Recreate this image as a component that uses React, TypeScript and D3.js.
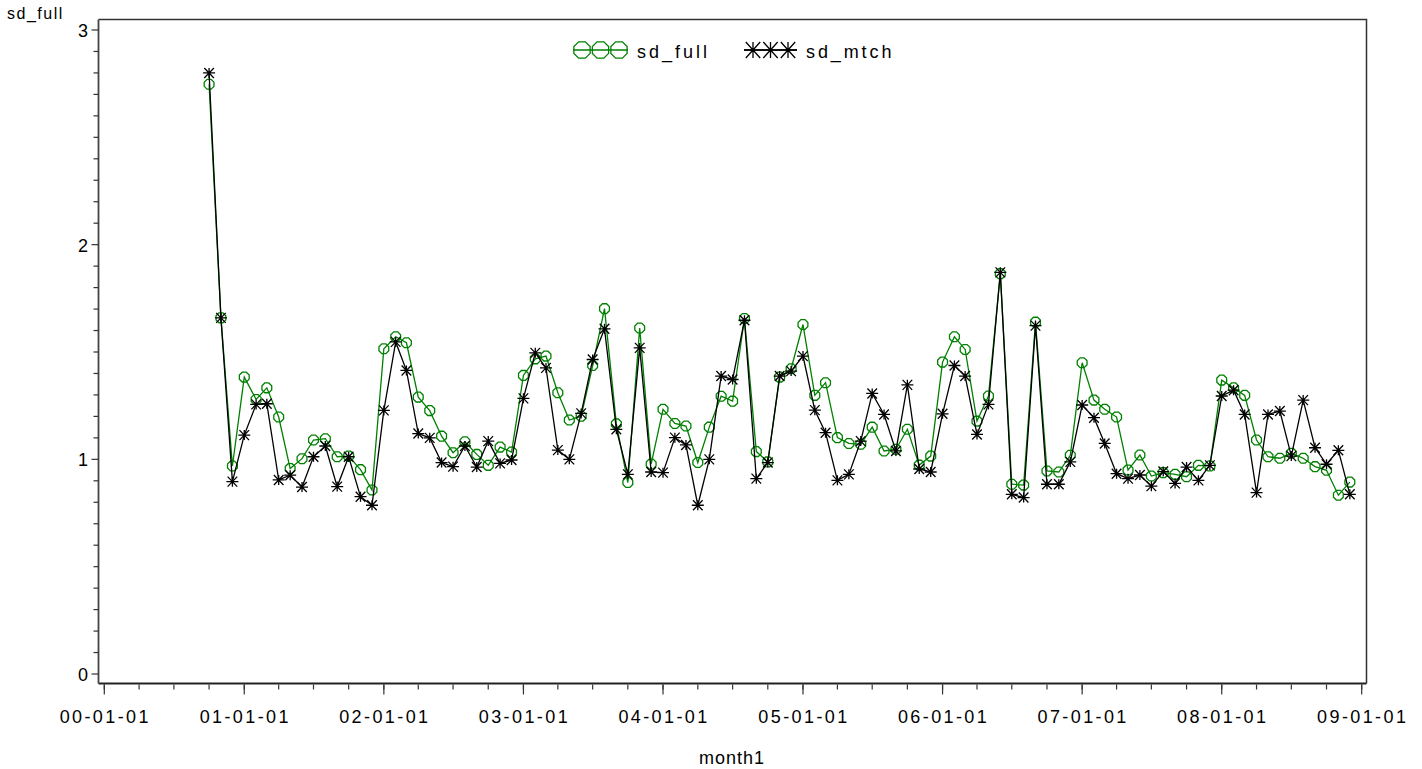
import React from 'react';
import * as d3 from 'd3';

const W = 1422;
const H = 769;

// Monthly values, Oct 2000 .. Dec 2008
const sdFull = [
  2.747, 1.659, 0.969,
  1.383, 1.279, 1.333, 1.197, 0.957, 1.003, 1.090, 1.096, 1.012, 1.015, 0.952, 0.857,
  1.515, 1.571, 1.543, 1.290, 1.227, 1.108, 1.031, 1.082, 1.023, 0.972, 1.057, 1.034,
  1.391, 1.468, 1.481, 1.310, 1.183, 1.201, 1.437, 1.702, 1.165, 0.892, 1.612, 0.978,
  1.233, 1.167, 1.155, 0.985, 1.150, 1.294, 1.271, 1.656, 1.036, 0.988, 1.383, 1.422,
  1.628, 1.298, 1.357, 1.101, 1.074, 1.070, 1.150, 1.039, 1.047, 1.140, 0.973, 1.015,
  1.453, 1.571, 1.512, 1.178, 1.295, 1.865, 0.884, 0.880, 1.639, 0.946, 0.941, 1.019,
  1.450, 1.276, 1.233, 1.197, 0.950, 1.020, 0.922, 0.938, 0.930, 0.919, 0.972, 0.969,
  1.369, 1.333, 1.298, 1.090, 1.012, 1.005, 1.028, 1.005, 0.966, 0.949, 0.833, 0.894,
];

const sdMtch = [
  2.800, 1.659, 0.896,
  1.113, 1.256, 1.259, 0.904, 0.926, 0.871, 1.012, 1.062, 0.873, 1.012, 0.826, 0.786,
  1.228, 1.547, 1.414, 1.120, 1.100, 0.985, 0.966, 1.062, 0.964, 1.085, 0.981, 0.997,
  1.284, 1.496, 1.426, 1.043, 1.000, 1.214, 1.465, 1.608, 1.140, 0.930, 1.519, 0.941,
  0.938, 1.101, 1.067, 0.786, 1.000, 1.388, 1.372, 1.648, 0.910, 0.985, 1.388, 1.411,
  1.481, 1.229, 1.124, 0.902, 0.930, 1.085, 1.307, 1.209, 1.039, 1.347, 0.955, 0.941,
  1.212, 1.437, 1.388, 1.116, 1.256, 1.871, 0.837, 0.822, 1.623, 0.884, 0.884, 0.988,
  1.253, 1.194, 1.074, 0.933, 0.910, 0.927, 0.875, 0.943, 0.888, 0.964, 0.902, 0.972,
  1.295, 1.322, 1.209, 0.845, 1.209, 1.225, 1.015, 1.276, 1.054, 0.977, 1.042, 0.837,
];

const months = d3.utcMonth.range(new Date(Date.UTC(2000, 9, 1)), new Date(Date.UTC(2009, 0, 1)));
const yTicks = [0, 1, 2, 3];
const xMajor = d3.utcYear.range(new Date(Date.UTC(2000, 0, 1)), new Date(Date.UTC(2009, 1, 1)));
const xMinor = d3.utcMonth.every(3)!.range(new Date(Date.UTC(2000, 0, 1)), new Date(Date.UTC(2009, 1, 1)));
const seriesNames = ['sd_full', 'sd_mtch'];

const FONT = "'Liberation Sans', Arial, sans-serif";
const GREEN = '#008000';

const x = d3.scaleUtc()
  .domain([new Date(Date.UTC(2000, 0, 1)), new Date(Date.UTC(2009, 0, 1))])
  .range([104.3, 1361.7]);
const y = d3.scaleLinear().domain([0, 3]).range([674, 30]);

const frame = { left: 98.5, right: 1366.5, top: 19.5, bottom: 683.5 };
const fmt = d3.utcFormat('%y-%m-%d');

function Octagon({ cx, cy, r, color }: { cx: number; cy: number; r: number; color: string }) {
  const pts = d3.range(8).map((i) => {
    const a = (Math.PI / 8) + (i * Math.PI) / 4;
    return [cx + r * Math.cos(a), cy + r * Math.sin(a)].join(',');
  });
  return <polygon points={pts.join(' ')} fill="none" stroke={color} strokeWidth={1.3} />;
}

function Star({ cx, cy, rx, ry, color }: { cx: number; cy: number; rx: number; ry: number; color: string }) {
  const d = `M${cx - rx},${cy}L${cx + rx},${cy}` +
    `M${cx - rx * 0.8},${cy - ry}L${cx + rx * 0.8},${cy + ry}` +
    `M${cx - rx * 0.8},${cy + ry}L${cx + rx * 0.8},${cy - ry}` +
    `M${cx},${cy - ry}L${cx},${cy + ry}`;
  return <path d={d} stroke={color} strokeWidth={1.3} fill="none" />;
}

export default function App() {
  const line = d3.line<number>()
    .x((_, i) => x(months[i]))
    .y((v) => y(v));

  const yMinor = d3.range(0, 3.0001, 0.1).filter((v) => Math.abs(v - Math.round(v)) > 1e-6);

  return (
    <svg width={W} height={H} style={{ position: 'absolute', left: 0, top: 0, background: '#fff' }}
      fontFamily={FONT}>
      <rect x={0} y={0} width={W} height={H} fill="#fff" />
      {/* frame */}
      <path d={`M${frame.left},${frame.top}L${frame.right},${frame.top}L${frame.right},${frame.bottom}`}
        fill="none" stroke="#333" strokeWidth={1.5} />
      <line x1={frame.left} x2={frame.right} y1={frame.bottom} y2={frame.bottom} stroke="#222" strokeWidth={1.8} />
      <line x1={frame.left} x2={frame.left} y1={frame.top} y2={frame.bottom} stroke="#444" strokeWidth={1.8} />

      {/* y ticks */}
      {yTicks.map((t) => (
        <g key={'yt' + t}>
          <line x1={frame.left - 7} x2={frame.left} y1={y(t)} y2={y(t)} stroke="#333" strokeWidth={1.2} />
          <text x={88} y={y(t) + 7} textAnchor="end" fontSize={18}>{t}</text>
        </g>
      ))}
      {yMinor.map((t, i) => (
        <line key={'ym' + i} x1={frame.left - 5} x2={frame.left} y1={y(t)} y2={y(t)} stroke="#333" strokeWidth={1.2} />
      ))}
      <text x={7} y={19} fontSize={16} letterSpacing={1.5}>sd_full</text>

      {/* x ticks */}
      {xMinor.map((d, i) => (
        <line key={'xm' + i} x1={x(d)} x2={x(d)} y1={frame.bottom + 1} y2={frame.bottom + 6} stroke="#333" strokeWidth={1.2} />
      ))}
      {xMajor.map((d, i) => (
        <g key={'xt' + i}>
          <line x1={x(d)} x2={x(d)} y1={frame.bottom + 1} y2={frame.bottom + 11} stroke="#333" strokeWidth={1.2} />
          <text x={x(d) + 1} y={723} textAnchor="middle" fontSize={18} letterSpacing={2.4}>{fmt(d)}</text>
        </g>
      ))}
      <text x={732} y={764} textAnchor="middle" fontSize={18} letterSpacing={1}>month1</text>

      {/* series: sd_full */}
      <path d={line(sdFull) || ''} fill="none" stroke={GREEN} strokeWidth={1.3} />
      {sdFull.map((v, i) => (
        <Octagon key={'f' + i} cx={x(months[i])} cy={y(v)} r={5.3} color={GREEN} />
      ))}
      {/* series: sd_mtch */}
      <path d={line(sdMtch) || ''} fill="none" stroke="#000" strokeWidth={1.3} />
      {sdMtch.map((v, i) => (
        <Star key={'m' + i} cx={x(months[i])} cy={y(v)} rx={6} ry={5} color="#000" />
      ))}

      {/* legend */}
      <g>
        <line x1={573} x2={628} y1={50} y2={50} stroke={GREEN} strokeWidth={1.3} />
        {[582, 600.5, 619].map((cx) => (
          <Octagon key={'lo' + cx} cx={cx} cy={50} r={8.8} color={GREEN} />
        ))}
        <text x={637} y={58} fontSize={18} letterSpacing={3}>{seriesNames[0]}</text>
        <line x1={744} x2={797} y1={50} y2={50} stroke="#000" strokeWidth={1.3} />
        {[753, 770.5, 788].map((cx) => (
          <Star key={'ls' + cx} cx={cx} cy={50} rx={9} ry={8} color="#000" />
        ))}
        <text x={806} y={58} fontSize={18} letterSpacing={2.9}>{seriesNames[1]}</text>
      </g>
    </svg>
  );
}
